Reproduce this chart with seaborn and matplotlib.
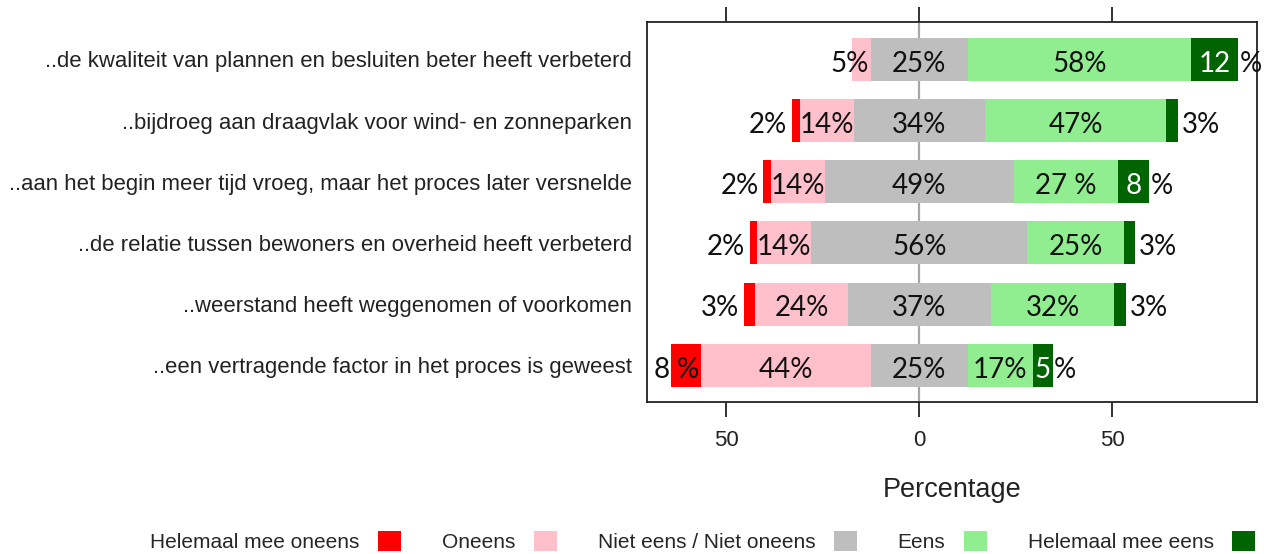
import numpy as np
import pandas as pd
import seaborn as sns
import matplotlib.pyplot as plt
from matplotlib.patches import Patch

# Data (percentages per statement)
statements = [
    "..de kwaliteit van plannen en besluiten beter heeft verbeterd",
    "..bijdroeg aan draagvlak voor wind- en zonneparken",
    "..aan het begin meer tijd vroeg, maar het proces later versnelde",
    "..de relatie tussen bewoners en overheid heeft verbeterd",
    "..weerstand heeft weggenomen of voorkomen",
    "..een vertragende factor in het proces is geweest",
]
helemaal_oneens = [0, 2, 2, 2, 3, 8]
oneens = [5, 14, 14, 14, 24, 44]
neutraal = [25, 34, 49, 56, 37, 25]
eens = [58, 47, 27, 25, 32, 17]
helemaal_eens = [12, 3, 8, 3, 3, 5]
eens_labels = ["58%", "47%", "27 %", "25%", "32%", "17%"]

categories = ["Helemaal mee oneens", "Oneens", "Niet eens / Niet oneens",
              "Eens", "Helemaal mee eens"]
colors = ["#FF0000", "#FFC0CB", "#BEBEBE", "#90EE90", "#006400"]

df = pd.DataFrame({
    "statement": statements,
    "h_oneens": helemaal_oneens,
    "oneens": oneens,
    "neutraal": neutraal,
    "eens": eens,
    "h_eens": helemaal_eens,
})
half = df["neutraal"] / 2
df["left_all"] = -(half + df["oneens"] + df["h_oneens"])
df["left_dis"] = -(half + df["oneens"])
df["left_neu"] = -half
df["right_neu"] = half
df["right_eens"] = half + df["eens"]
df["right_all"] = half + df["eens"] + df["h_eens"]

sns.set_theme(style="white")
plt.rcParams["font.family"] = ["Liberation Sans", "DejaVu Sans"]

fig = plt.figure(figsize=(12.64, 5.54), dpi=100)
ax = fig.add_axes([647 / 1264, 1 - 402 / 554, 610 / 1264, 380 / 554])

ax.axvline(0, color="#A8A8A8", lw=1.6, zorder=0)

# diverging stack: overlay bars from 0, widest first
layers = [("left_all", colors[0]), ("left_dis", colors[1]), ("left_neu", colors[2]),
          ("right_all", colors[4]), ("right_eens", colors[3]), ("right_neu", colors[2])]
for col, c in layers:
    sns.barplot(data=df, x=col, y="statement", orient="h", color=c, width=0.7,
                linewidth=0, saturation=1, errorbar=None, ax=ax)

# percentage labels
lab_font = dict(family=["Lato", "DejaVu Sans"], fontsize=20, color="#111111")
dy = 0.07
for i, row in df.iterrows():
    y = i + dy
    # helemaal mee oneens
    if row["h_oneens"] > 0:
        if row["h_oneens"] >= 5:
            ax.text(row["left_all"] - 0.3, y, f"{row['h_oneens']}", ha="right", va="center", **lab_font)
            ax.text(row["left_all"] + 1.5, y, "%", ha="left", va="center", **lab_font)
        else:
            ax.text(row["left_all"] - 1.2, y, f"{row['h_oneens']}%", ha="right", va="center", **lab_font)
    # oneens
    if row["oneens"] < 8:
        ax.text(row["left_neu"] - 0.6, y, f"{row['oneens']}%", ha="right", va="center", **lab_font)
    else:
        ax.text((row["left_dis"] + row["left_neu"]) / 2, y, f"{row['oneens']}%", ha="center", va="center", **lab_font)
    # neutraal
    ax.text(0, y, f"{row['neutraal']}%", ha="center", va="center", **lab_font)
    # eens
    ax.text((row["right_neu"] + row["right_eens"]) / 2, y, eens_labels[i], ha="center", va="center", **lab_font)
    # helemaal mee eens
    if row["h_eens"] >= 5:
        ax.text((row["right_eens"] + row["right_all"]) / 2, y, f"{row['h_eens']}", ha="center", va="center",
                **{**lab_font, "color": "white"})
        ax.text(row["right_all"] + 0.4, y, "%", ha="left", va="center", **lab_font)
    else:
        ax.text(row["right_all"] + 1.0, y, f"{row['h_eens']}%", ha="left", va="center", **lab_font)

ax.set_xlim(-70.6, 87.5)
ax.set_ylim(5.6, -0.61)
ax.set_xticks([-50, 0, 50])
ax.set_xticklabels(["50", "0", "50"], fontsize=16, color="#222222")
ax.set_yticks(range(len(statements)))
ax.set_yticklabels(statements, fontsize=15.9, color="#222222")
ax.set_xlabel("Percentage", fontsize=19.5, color="#222222", labelpad=19)
ax.set_ylabel("")
ax.tick_params(axis="x", which="both", top=True, bottom=True, direction="out",
               length=11, width=1.3, color="#222222", pad=9)
ax.tick_params(axis="y", length=0, pad=11)
for s in ax.spines.values():
    s.set_visible(True)
    s.set_color("#222222")
    s.set_linewidth(1.3)

handles = [Patch(facecolor=c, edgecolor="none") for c in colors]
fig.legend(handles, categories, loc="center", bbox_to_anchor=(0.556, 0.023), ncol=5,
           markerfirst=False, frameon=False, fontsize=15, handlelength=1.1, handleheight=1.1,
           handletextpad=0.9, columnspacing=1.95)

fig.savefig("out.png", dpi=100)
